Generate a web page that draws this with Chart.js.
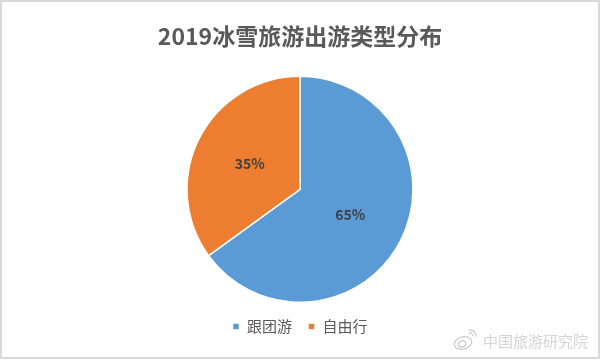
<!DOCTYPE html>
<html>
<head>
<meta charset="utf-8">
<script src="https://cdn.jsdelivr.net/npm/chart.js@4/dist/chart.umd.min.js"></script>
<style>
  html, body { margin: 0; padding: 0; background: #fff; }
  #wrap { width: 600px; height: 360px; position: relative; }
</style>
</head>
<body>
<div id="wrap"><canvas id="myChart" width="600" height="360"></canvas></div>
<script>
// 数据
const chartTitle = '2019冰雪旅游出游类型分布'
const categories = ['跟团游', '自由行']
const shares = [65, 35]
const sliceColors = ['#5B9BD5', '#ED7D31']
const watermark = '中国旅游研究院'

const fontCJK = '"Noto Sans CJK SC", "Noto Sans", sans-serif'

// 百分比标签
const sliceLabels = {
  id: 'sliceLabels',
  afterDatasetsDraw(chart) {
    const ctx = chart.ctx
    const meta = chart.getDatasetMeta(0)
    ctx.save()
    ctx.font = 'bold 14px ' + fontCJK
    ctx.fillStyle = '#404040'
    ctx.textAlign = 'center'
    ctx.textBaseline = 'middle'
    meta.data.forEach((arc, i) => {
      const p = arc.tooltipPosition()
      ctx.fillText(shares[i] + '%', p.x, p.y)
    })
    ctx.restore()
  }
}

// 边框 + 水印
const frame = {
  id: 'frame',
  afterDraw(chart) {
    const ctx = chart.ctx
    ctx.save()
    ctx.strokeStyle = '#d9d9d9'
    ctx.lineWidth = 2
    ctx.strokeRect(1, 1, 598, 357)
    // 微博图标（简化）
    ctx.strokeStyle = '#c8c8c8'
    ctx.lineWidth = 1.2
    ctx.beginPath()
    ctx.ellipse(463, 343, 9, 6, -0.3, 0, Math.PI * 2)
    ctx.stroke()
    ctx.beginPath()
    ctx.ellipse(462, 344, 4, 3, -0.3, 0, Math.PI * 2)
    ctx.stroke()
    ctx.beginPath()
    ctx.arc(470, 336, 6, -Math.PI * 0.6, 0.1)
    ctx.stroke()
    ctx.beginPath()
    ctx.arc(470, 336, 3, -Math.PI * 0.6, 0.1)
    ctx.stroke()
    ctx.font = '15px ' + fontCJK
    ctx.fillStyle = '#d4d4d4'
    ctx.textBaseline = 'middle'
    ctx.fillText(watermark, 483, 341)
    ctx.restore()
  }
}

const ctx = document.getElementById('myChart').getContext('2d')
const myChart = new Chart(ctx, {
  type: 'pie',
  data: {
    labels: categories,
    datasets: [
      {
        data: shares,
        backgroundColor: sliceColors,
        borderColor: '#ffffff',
        borderWidth: 1.5,
      },
    ],
  },
  options: {
    responsive: false,
    animation: false,
    layout: {
      padding: { top: 0, bottom: 16, left: 0, right: 0 },
    },
    plugins: {
      title: {
        display: true,
        text: chartTitle,
        color: '#595959',
        font: { family: fontCJK, size: 23, weight: 'bold', lineHeight: 1.2 },
        padding: { top: 22, bottom: 26 },
      },
      legend: {
        position: 'bottom',
        labels: {
          boxWidth: 7,
          boxHeight: 7,
          padding: 16,
          color: '#595959',
          font: { family: fontCJK, size: 15 },
        },
      },
      tooltip: { enabled: false },
    },
  },
  plugins: [sliceLabels, frame],
})
</script>
</body>
</html>
